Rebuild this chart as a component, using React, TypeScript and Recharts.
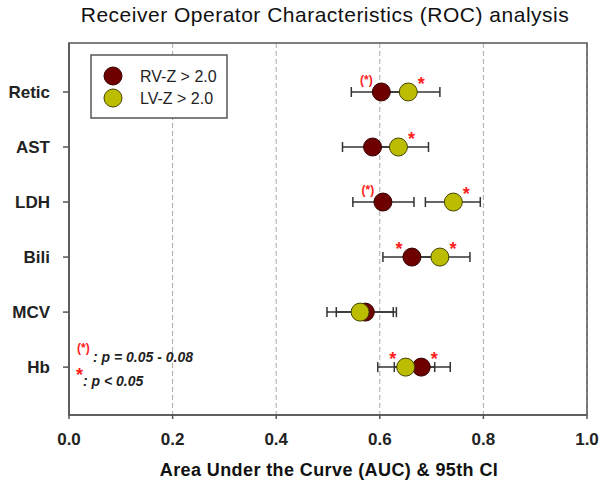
import React from 'react';
import { ScatterChart, Scatter, XAxis, YAxis, CartesianGrid, ErrorBar, ReferenceArea, Customized } from 'recharts';

const categories = ['Retic', 'AST', 'LDH', 'Bili', 'MCV', 'Hb'];
const xTicks = [0, 0.2, 0.4, 0.6, 0.8, 1.0];

// RV-Z > 2.0
const rvAuc = [0.603, 0.586, 0.606, 0.662, 0.572, 0.680];
const rvCiLow = [0.545, 0.528, 0.548, 0.606, 0.516, 0.628];
const rvCiHigh = [0.660, 0.640, 0.666, 0.720, 0.632, 0.736];
const rvSig = ['(*)', '', '(*)', '*', '', '*'];

// LV-Z > 2.0
const lvAuc = [0.655, 0.636, 0.742, 0.716, 0.562, 0.650];
const lvCiLow = [0.600, 0.585, 0.688, 0.660, 0.498, 0.596];
const lvCiHigh = [0.716, 0.694, 0.794, 0.774, 0.626, 0.706];
const lvSig = ['*', '*', '*', '*', '', '*'];

const RV_COLOR = '#6e0000';
const LV_COLOR = '#bcbc00';
const FONT = '"Liberation Sans", Arial, sans-serif';

const build = (auc: number[], lo: number[], hi: number[], sig: string[], other: number[]) =>
  categories.map((name, i) => ({
    name,
    x: auc[i],
    y: i + 1,
    err: [auc[i] - lo[i], hi[i] - auc[i]],
    sig: sig[i],
    other: other[i],
  }));

const rvData = build(rvAuc, rvCiLow, rvCiHigh, rvSig, lvAuc);
const lvData = build(lvAuc, lvCiLow, lvCiHigh, lvSig, rvAuc);

// circle plus the significance mark, put on the outer side of the pair
const makeShape = (fill: string, stroke: string) => (props: any) => {
  const { cx, cy, payload } = props;
  const side = payload.x < payload.other ? -1 : 1;
  return (
    <g>
      <circle cx={cx} cy={cy} r={9} fill={fill} stroke={stroke} strokeWidth={1} />
      {payload.sig === '*' && (
        <text x={cx + side * 13} y={cy - 2} textAnchor="middle" fill="#ff2020" fontSize={18} fontWeight="bold" fontFamily={FONT}>*</text>
      )}
      {payload.sig === '(*)' && (
        <text x={cx + side * 15} y={cy - 8} textAnchor="middle" fill="#ff2020" fontSize={12} fontWeight="bold" fontFamily={FONT}>(*)</text>
      )}
    </g>
  );
};

const Decorations = () => (
  <g fontFamily={FONT}>
    <text x={325} y={22} textAnchor="middle" fontSize={21} letterSpacing={0.5} fill="#111">
      Receiver Operator Characteristics (ROC) analysis
    </text>
    <text x={329} y={476} textAnchor="middle" fontSize={18} letterSpacing={0.4} fontWeight="bold" fill="#111">
      Area Under the Curve (AUC) &amp; 95th CI
    </text>

    <rect x={91} y={55} width={136} height={63} fill="#fff" stroke="#555" strokeWidth={1.5} />
    <circle cx={113} cy={76} r={9} fill={RV_COLOR} stroke="#300" />
    <text x={140} y={82} fontSize={16} fill="#222">RV-Z &gt; 2.0</text>
    <circle cx={113} cy={98} r={9} fill={LV_COLOR} stroke="#440" />
    <text x={140} y={104} fontSize={16} fill="#222">LV-Z &gt; 2.0</text>

    <text x={77} y={352} fontSize={12} fontWeight="bold" fill="#ff2020">(*)</text>
    <text x={93} y={362} fontSize={14} fontWeight="bold" fontStyle="italic" fill="#222">: p = 0.05 - 0.08</text>
    <text x={76} y={381} fontSize={18} fontWeight="bold" fill="#ff2020">*</text>
    <text x={83} y={386} fontSize={14} fontWeight="bold" fontStyle="italic" fill="#222">: p &lt; 0.05</text>
  </g>
);

export default function App() {
  return (
    <div style={{ position: 'absolute', left: 0, top: 0, background: '#fff' }}>
      <ScatterChart width={600} height={485} margin={{ top: 43, right: 13, bottom: 0, left: 0 }}>
        <CartesianGrid horizontal={false} stroke="#aaa" strokeDasharray="5 3" />
        <XAxis
          type="number"
          dataKey="x"
          domain={[0, 1]}
          ticks={xTicks}
          tickFormatter={(v: number) => v.toFixed(1)}
          height={70}
          tickSize={4}
          tickMargin={14}
          stroke="#555"
          strokeWidth={1.5}
          tick={{ fill: '#222', fontSize: 17, fontWeight: 'bold', fontFamily: FONT }}
        />
        <YAxis
          type="number"
          dataKey="y"
          domain={[0.11, 6.87]}
          ticks={[1, 2, 3, 4, 5, 6]}
          reversed
          allowDataOverflow
          tickFormatter={(v: number) => categories[v - 1]}
          width={69}
          tickSize={6}
          tickMargin={13}
          stroke="#555"
          strokeWidth={1.5}
          tick={{ fill: '#222', fontSize: 17, fontWeight: 'bold', fontFamily: FONT }}
        />
        <ReferenceArea x1={0} x2={1} y1={0.11} y2={6.87} fill="none" stroke="#555" strokeWidth={1.5} ifOverflow="visible" />
        <Scatter name="RV-Z > 2.0" data={rvData} shape={makeShape(RV_COLOR, '#300')} isAnimationActive={false}>
          <ErrorBar dataKey="err" direction="x" width={5} stroke="#333" strokeWidth={1.5} isAnimationActive={false} />
        </Scatter>
        <Scatter name="LV-Z > 2.0" data={lvData} shape={makeShape(LV_COLOR, '#440')} isAnimationActive={false}>
          <ErrorBar dataKey="err" direction="x" width={5} stroke="#333" strokeWidth={1.5} isAnimationActive={false} />
        </Scatter>
        <Customized component={Decorations} />
      </ScatterChart>
    </div>
  );
}
